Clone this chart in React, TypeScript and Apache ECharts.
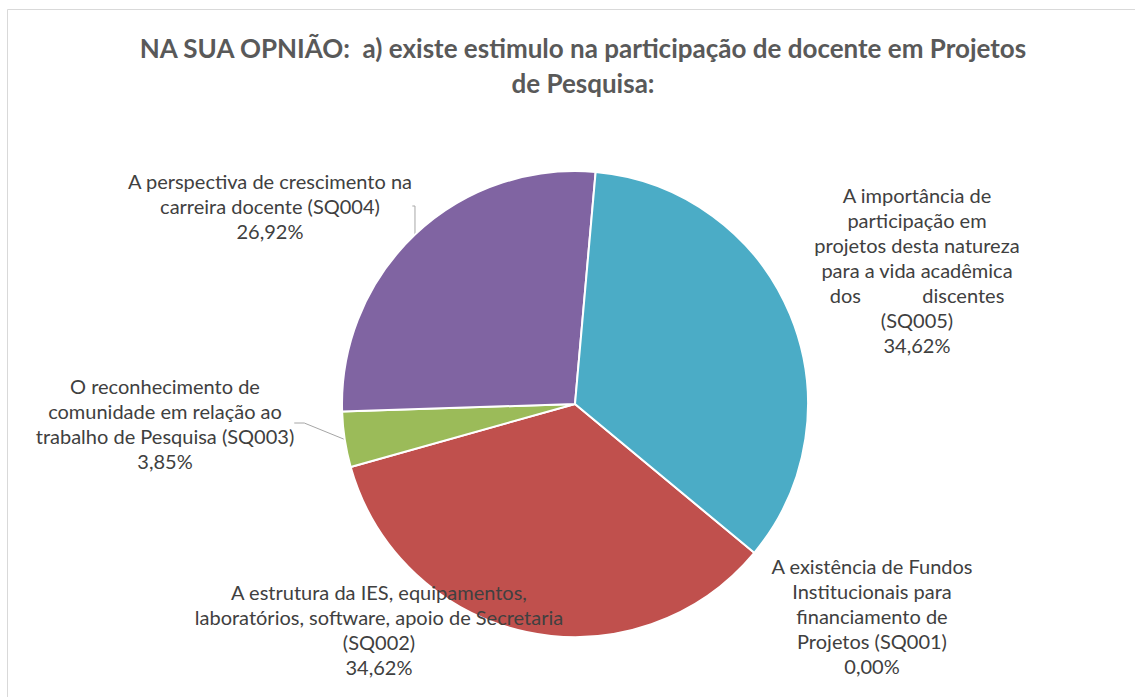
import React, { useEffect, useRef } from "react";
import * as echarts from "echarts";

const TITLE = "NA SUA OPNIÃO:  a) existe estimulo na participação de docente em Projetos\nde Pesquisa:";

const categories = [
  "A existência de Fundos\nInstitucionais para\nfinanciamento de\nProjetos (SQ001)",
  "A estrutura da IES, equipamentos,\nlaboratórios, software, apoio de Secretaria\n(SQ002)",
  "O reconhecimento de\ncomunidade em relação ao\ntrabalho de Pesquisa (SQ003)",
  "A perspectiva de crescimento na\ncarreira docente (SQ004)",
  "A importância de\nparticipação em\nprojetos desta natureza\npara a vida acadêmica\ndos            discentes\n(SQ005)",
];

const values = [0, 9, 1, 7, 9];

const colors = ["#4F81BD", "#C0504D", "#9BBB59", "#8064A2", "#4BACC6"];

const showLeader = [false, false, true, true, false];

// label block centres (layout only)
const labelPos: [number, number][] = [
  [872, 616],
  [379, 629],
  [165, 423],
  [270, 206],
  [917, 270],
];

const total = values.reduce((a, b) => a + b, 0);

export default function App() {
  const ref = useRef<HTMLDivElement>(null);
  useEffect(() => {
    if (!ref.current) return;
    const chart = echarts.init(ref.current, null, { renderer: "svg" });
    const font = "Lato, 'Noto Sans', sans-serif";
    chart.setOption({
      animation: false,
      backgroundColor: "#ffffff",
      title: {
        text: TITLE,
        left: 578,
        top: 25,
        textAlign: "center",
        textStyle: {
          fontFamily: font,
          fontWeight: "bold",
          fontSize: 26,
          lineHeight: 35,
          color: "#595959",
        },
      },
      graphic: [
        {
          type: "rect",
          shape: { x: 7.5, y: 9.5, width: 1140, height: 700 },
          style: { fill: "none", stroke: "#d9d9d9", lineWidth: 1 },
          silent: true,
        },
      ],
      series: [
        {
          type: "pie",
          center: [575, 404],
          radius: 233,
          startAngle: -39.7,
          clockwise: true,
          avoidLabelOverlap: false,
          stillShowZeroSum: true,
          itemStyle: { borderColor: "#ffffff", borderWidth: 2 },
          label: {
            show: true,
            position: "outside",
            color: "#404040",
            fontFamily: font,
            fontSize: 20,
            lineHeight: 25,
            align: "center",
            formatter: (p: any) =>
              p.name +
              "\n" +
              ((p.value / total) * 100).toFixed(2).replace(".", ",") +
              "%",
          },
          labelLine: {
            show: true,
            length: 10,
            length2: 10,
            lineStyle: { color: "#a6a6a6", width: 1 },
          },
          labelLayout: (params: any) => {
            const p = labelPos[params.dataIndex];
            return { x: p[0], y: p[1], align: "center", verticalAlign: "middle" };
          },
          emphasis: { disabled: true },
          data: categories.map((c, i) => ({
            name: c,
            value: values[i],
            itemStyle: { color: colors[i] },
            labelLine: { show: showLeader[i] },
          })),
        },
      ],
    });
    return () => chart.dispose();
  }, []);
  return (
    <div
      ref={ref}
      style={{ position: "fixed", left: 0, top: 0, width: 1135, height: 697 }}
    />
  );
}
